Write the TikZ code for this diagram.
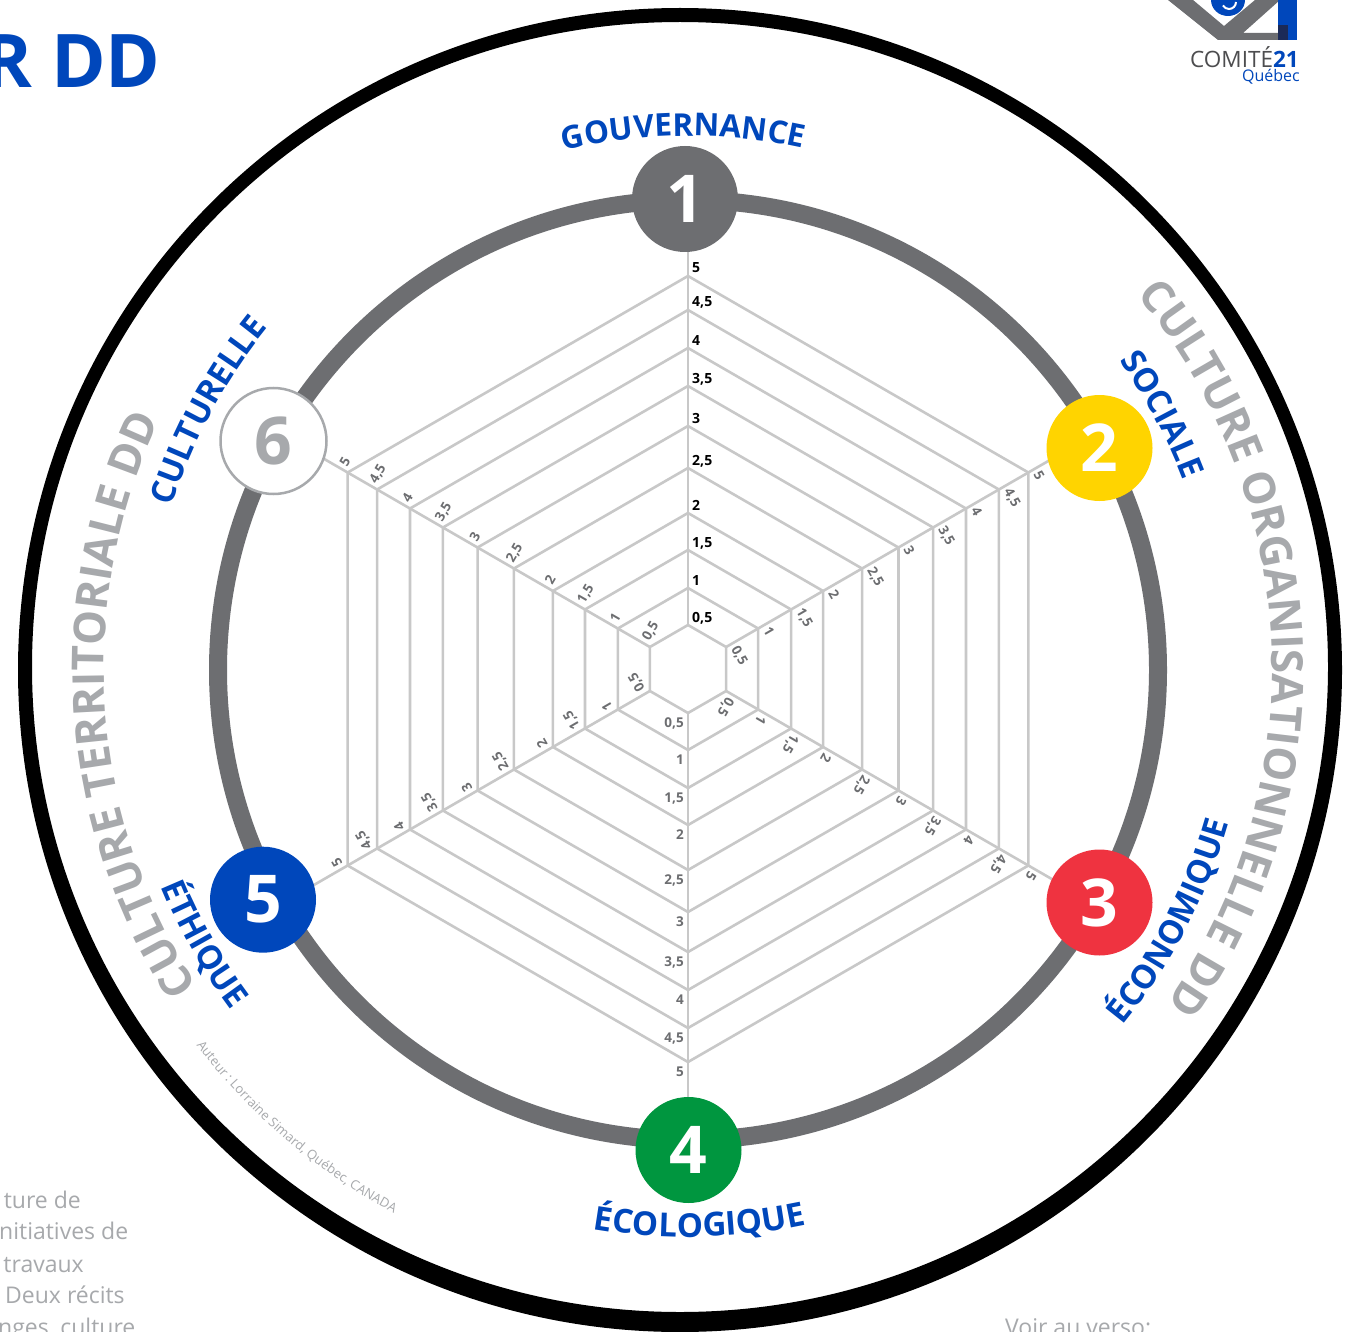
\documentclass[tikz,border=0pt]{standalone}
\usepackage{fontspec}
\setmainfont{Open Sans}
\usetikzlibrary{decorations.text}
\definecolor{cblue}{HTML}{0047BB}
\definecolor{cdark}{HTML}{6D6E71}
\definecolor{cgrid}{HTML}{C8C8C8}
\definecolor{clight}{HTML}{A7A9AC}
\definecolor{cyellow}{HTML}{FFD400}
\definecolor{cred}{HTML}{EF3340}
\definecolor{cgreen}{HTML}{00963F}
\definecolor{cnavy}{HTML}{1B2A57}
\definecolor{clogo}{HTML}{4D4D4F}
\newcommand\catfont{\fontsize{33pt}{33pt}\selectfont\bfseries\color{cblue}}
\newcommand\govfont{\fontsize{31.5pt}{31.5pt}\selectfont\bfseries\color{cblue}}
\newcommand\grayfont{\fontsize{44pt}{44pt}\selectfont\bfseries\color{clight}}
\newcommand\authfont{\fontsize{13pt}{13pt}\selectfont\color{clight}}
\tikzset{
  gridline/.style={draw=cgrid, line width=2.6pt, line join=miter},
  axlab/.style={inner sep=0pt, text=cdark, font=\fontsize{13.5pt}{13.5pt}\selectfont\bfseries},
  toplab/.style={inner sep=0pt, text=black, font=\fontsize{14pt}{14pt}\selectfont\bfseries},
  numnode/.style={circle, minimum size=106pt, inner sep=0pt, text=white, font=\fontsize{66pt}{66pt}\selectfont\bfseries},
  catlab/.style={decorate, decoration={text along path, text align=center, text={|\catfont|#1}}},
  graylab/.style={decorate, decoration={text along path, text align=center, text={|\grayfont|#1}}},
  paratext/.style={inner sep=0pt, text=clight, font=\fontsize{23pt}{23pt}\selectfont},
}
\begin{document}
\begin{tikzpicture}[x=1pt,y=1pt]
\useasboundingbox (0,0) rectangle (1349,-1332);
\fill[white] (0,0) rectangle (1349,-1332);

% outer black ring
\fill[black, even odd rule] (680,-670) circle[radius=662] (680,-667) ellipse[x radius=648, y radius=645];

\begin{scope}[shift={(688,-669)}]
  % grey ring
  \draw[cdark, line width=18pt] (0,-1) circle[radius=470];
  % hexagonal grid
  \foreach \r in {44,81,119,156,201,243,283,321,359,393}
    \draw[gridline] (90:\r) -- (30:\r) -- (-30:\r) -- (-90:\r) -- (-150:\r) -- (150:\r) -- cycle;
  \foreach \a in {90,30,-30,-90,-150,150}
    \draw[gridline] (\a:44) -- (\a:468);
  % axis labels
  \foreach \r/\l [count=\i] in {44/{0,5},81/1,119/{1,5},156/2,201/{2,5},243/3,283/{3,5},321/4,359/{4,5},393/5} {
    \node[toplab, anchor=base west] (lt\i) at (4,\r+3) {\l};
    \node[axlab, anchor=north east] (lb\i) at (-4,-\r-5) {\l};
    \foreach \a [count=\j] in {30,-30,-150,150} {
      \pgfmathsetmacro\lx{(\r+3)*cos(\a)+4*sin(\a)}
      \pgfmathsetmacro\ly{(\r+3)*sin(\a)-4*cos(\a)}
      \node[axlab, anchor=base west, rotate=\a-90] (l\i x\j) at (\lx,\ly) {\l};
    }
  }
  % numbered nodes
  \node[numnode, fill=cdark] (n1) at (-3,470) {1};
  \node[numnode, fill=cyellow] (n2) at (411.5,221) {2};
  \node[numnode, fill=cred] (n3) at (411.5,-233.5) {3};
  \node[numnode, fill=cgreen] (n4) at (0.5,-481) {4};
  \node[numnode, fill=cblue] (n5) at (-425,-230.7) {5};
  \node[numnode, fill=white, draw=clight, line width=2.5pt, text=clight] (n6) at (-414.5,228) {6};
  % curved category labels
  \path[decorate, decoration={text along path, text align=center, text={|\govfont|GOUVERNANCE}}] (120:533) arc[start angle=120, end angle=61, radius=533];
  \path[catlab=SOCIALE] (50:530) arc[start angle=50, end angle=6.4, radius=530];
  \path[catlab=CULTURELLE] (175:541) arc[start angle=175, end angle=128.4, radius=541];
  \path[catlab=ÉCONOMIQUE] (-55:562) arc[start angle=-55, end angle=-0.2, radius=562];
  \path[catlab=ÉCOLOGIQUE] (-115:568) arc[start angle=-115, end angle=-62.6, radius=568];
  \path[catlab=ÉTHIQUE] (185:570) arc[start angle=185, end angle=234.2, radius=570];
  \path[graylab={CULTURE ORGANISATIONNELLE DD}] (80:584) arc[start angle=80, end angle=-75.2, radius=584];
  \path[graylab={CULTURE TERRITORIALE DD}] (260:584) arc[start angle=260, end angle=107.6, radius=584];
  \path[decorate, decoration={text along path, text align=center, text={|\authfont|Auteur : Lorraine Simard, Québec, CANADA}}] (205:619) arc[start angle=205, end angle=254, radius=619];
\end{scope}

% title fragment
\node[anchor=base east, inner sep=0pt, text=cblue, font=\fontsize{74pt}{74pt}\selectfont\bfseries] (title) at (161,-88) {R DD};

% logo
\fill[cdark] (1168,0) -- (1193,0) -- (1224,-26) -- (1255,0) -- (1280,0) -- (1243,-33) -- (1278,-33) -- (1278,-40) -- (1218,-40) -- cycle;
\fill[cblue] (1228,0) ellipse[x radius=17, y radius=16];
\draw[white, line width=2pt] (1236,-2) arc[start angle=0, end angle=-150, radius=7];
\fill[cblue] (1278,0) rectangle (1297,-40);
\fill[cnavy] (1278,-25) rectangle (1288,-40);
\node[anchor=base west, inner sep=0pt, text=clogo, font=\fontsize{22.5pt}{22.5pt}\selectfont] (comite) at (1190,-68) {COMITÉ\textcolor{cblue}{\bfseries 21}};
\node[anchor=base east, inner sep=0pt, text=cblue, font=\fontsize{16pt}{16pt}\selectfont] (quebec) at (1300,-82) {Québec};

% paragraph fragments
\node[paratext, anchor=base east] (p1) at (81,-1208) {ture de};
\node[paratext, anchor=base west] (p2) at (-1,-1239) {nitiatives de};
\node[paratext, anchor=base east] (p3) at (84,-1272) {travaux};
\node[paratext, anchor=base west] (p4) at (5,-1303) {Deux récits};
\node[paratext, anchor=base west] (p5) at (-2,-1335) {nges, culture};
\node[paratext, anchor=base west] (p6) at (1005,-1335) {Voir au verso:};
\end{tikzpicture}
\end{document}
